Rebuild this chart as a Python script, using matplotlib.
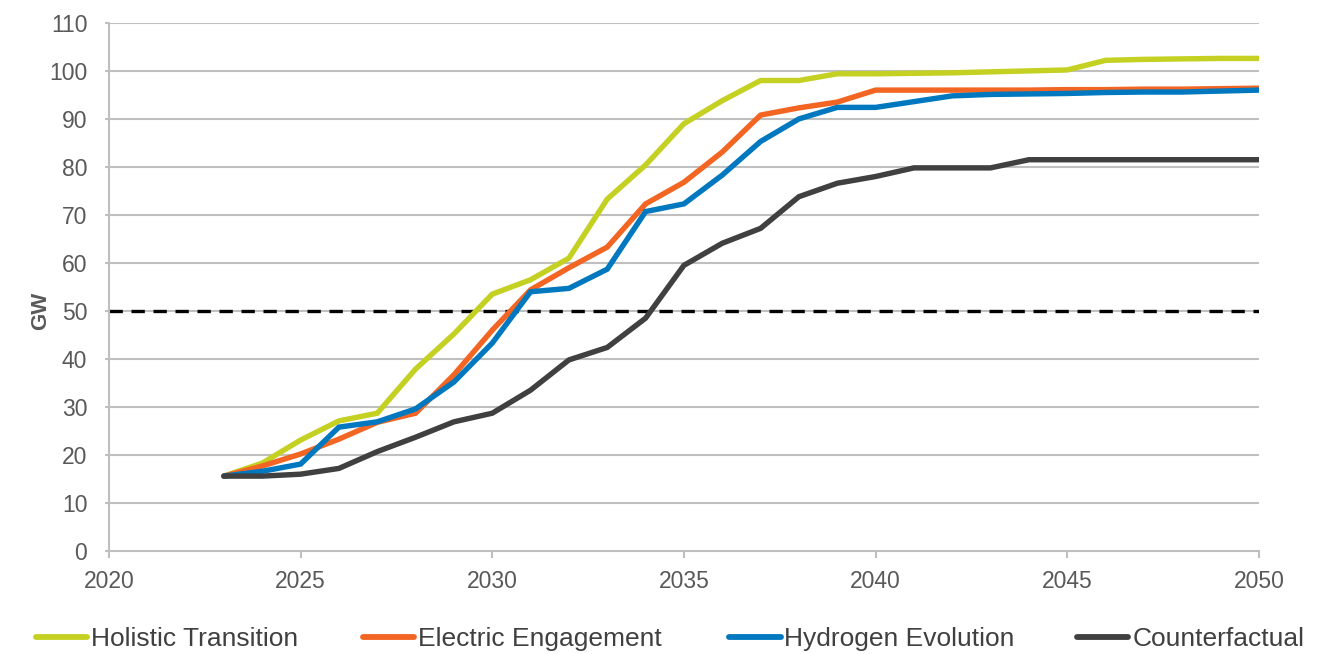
import matplotlib.pyplot as plt
from matplotlib.lines import Line2D

plt.rcParams['font.family'] = ['Liberation Sans', 'DejaVu Sans']

years = list(range(2023, 2051))

holistic = [15.6, 18.3, 23.1, 27.1, 28.7, 37.9, 45.2, 53.5, 56.5, 61.0,
            73.3, 80.4, 89.0, 93.8, 98.0, 98.0, 99.4, 99.4, 99.5, 99.6,
            99.8, 100.0, 100.2, 102.2, 102.4, 102.5, 102.6, 102.6]
electric = [15.6, 17.7, 20.2, 23.3, 26.8, 28.7, 36.7, 46.0, 54.4, 59.0,
            63.3, 72.3, 76.8, 83.1, 90.8, 92.3, 93.5, 96.0, 96.0, 96.0,
            96.0, 96.0, 96.1, 96.1, 96.2, 96.2, 96.3, 96.4]
hydrogen = [15.6, 16.6, 18.1, 25.8, 26.9, 29.6, 35.2, 43.3, 54.0, 54.7,
            58.7, 70.7, 72.3, 78.3, 85.3, 90.0, 92.4, 92.4, 93.6, 94.8,
            95.1, 95.2, 95.3, 95.5, 95.6, 95.6, 95.8, 96.0]
counterfactual = [15.6, 15.6, 16.0, 17.2, 20.7, 23.7, 26.9, 28.7, 33.5, 39.8,
                  42.4, 48.5, 59.5, 64.1, 67.2, 73.8, 76.6, 78.0, 79.8, 79.8,
                  79.8, 81.5, 81.5, 81.5, 81.5, 81.5, 81.5, 81.5]

series = [
    ("Holistic Transition", holistic, "#C4D022"),
    ("Electric Engagement", electric, "#F26522"),
    ("Hydrogen Evolution", hydrogen, "#0078C0"),
    ("Counterfactual", counterfactual, "#404040"),
]
target = 50

fig = plt.figure(figsize=(13.28, 6.54), dpi=100)
ax = fig.add_axes([0.082, 0.1575, 0.866, 0.8075])

grid_col = "#BFBFBF"
for y in range(10, 111, 10):
    ax.axhline(y, color=grid_col, lw=1.5, zorder=1)

ax.axhline(target, color="black", lw=2.4, ls=(0, (4, 2.6)), zorder=2)

for name, vals, col in series:
    ax.plot(years, vals, color=col, lw=3.9, solid_capstyle="round",
            solid_joinstyle="miter", zorder=3)

ax.set_xlim(2020, 2050)
ax.set_ylim(0, 110)
ax.set_xticks(range(2020, 2051, 5))
ax.set_yticks(range(0, 111, 10))
ax.tick_params(axis="both", colors=grid_col, labelcolor="#595959",
               labelsize=16.5, width=1.5, direction="out")
ax.tick_params(axis="x", length=5, pad=9)
ax.tick_params(axis="y", length=3, pad=12.5)

for side in ("top", "right"):
    ax.spines[side].set_visible(False)
for side in ("left", "bottom"):
    ax.spines[side].set_color(grid_col)
    ax.spines[side].set_linewidth(1.5)

ax.set_ylabel("GW", fontsize=16, fontweight="bold", color="#595959")
ax.yaxis.set_label_coords(-0.050, 0.455)

# legend entries placed one by one along the bottom
legend_x = [0.0271, 0.2733, 0.549, 0.811]
for (name, vals, col), x in zip(series, legend_x):
    h = Line2D([], [], color=col, lw=4.2, solid_capstyle="round")
    fig.legend(handles=[h], labels=[name], loc="center left",
               bbox_to_anchor=(x, 0.023), frameon=False, fontsize=19,
               handlelength=1.95, handletextpad=0.15, borderpad=0,
               borderaxespad=0, labelcolor="#404040")

fig.savefig("out.png", dpi=100)
